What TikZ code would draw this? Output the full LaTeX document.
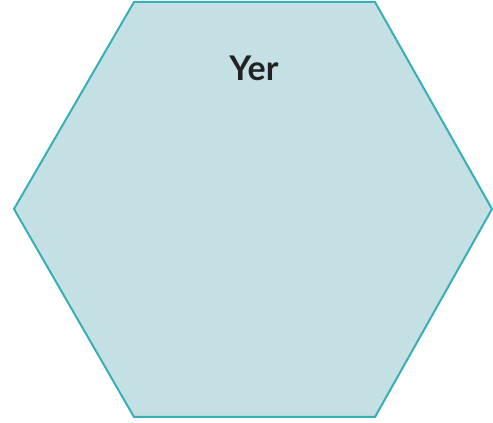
\documentclass[tikz,border=0pt]{standalone}
\usepackage{fontspec}
\setmainfont{Lato}
\definecolor{hexfill}{HTML}{C5E0E4}
\definecolor{hexline}{HTML}{36AFB5}
\definecolor{txt}{HTML}{222222}
\tikzset{hexshape/.style={fill=hexfill,draw=hexline,line width=2pt,line join=miter},
  lbl/.style={font=\fontsize{34}{40}\selectfont\bfseries,text=txt}}
\begin{document}
\begin{tikzpicture}[x=1pt,y=1pt]
\useasboundingbox (0,0) rectangle (493,423);
\draw[hexshape] (134,421) -- (375,421) -- (492,214) -- (375,6) -- (134,6) -- (14,214) -- cycle;
\node[lbl] (yer) at (254,355) {Yer};
\end{tikzpicture}
\end{document}
